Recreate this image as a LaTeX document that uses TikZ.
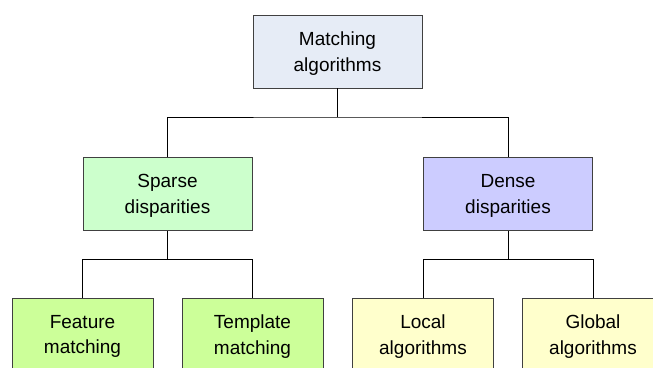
\documentclass[tikz,border=0pt]{standalone}
\usepackage{fontspec}
\setmainfont{Liberation Sans}
\usetikzlibrary{shadows}
\definecolor{topfill}{HTML}{E6ECF6}
\definecolor{sparsefill}{HTML}{CCFFCC}
\definecolor{densefill}{HTML}{CCCCFF}
\definecolor{leafgreen}{HTML}{CCFF99}
\definecolor{leafyellow}{HTML}{FFFFCC}
\definecolor{edgegray}{HTML}{404040}
\tikzset{
  box/.style={draw=edgegray, line width=0.9pt, rectangle, align=center,
    minimum height=73pt, inner sep=0pt, text depth=-2pt,
    font=\fontsize{19}{25.5}\selectfont,
    drop shadow={shadow xshift=0.9pt, shadow yshift=-0.9pt, fill=edgegray, opacity=0.8}},
  wide/.style={box, minimum width=169pt},
  leaf/.style={box, minimum width=141pt},
  link/.style={draw=black, line width=0.8pt}
}
\begin{document}
\begin{tikzpicture}[x=1pt, y=-1pt]
  \useasboundingbox (0,0) rectangle (653,367);
  \clip (0,0) rectangle (653,367);
  % tree boxes
  \node[wide, fill=topfill]    (root)   at (337.5,51.5)  {Matching\\algorithms};
  \node[wide, fill=sparsefill] (sparse) at (167.5,194)   {Sparse\\disparities};
  \node[wide, fill=densefill]  (dense)  at (508,194)     {Dense\\disparities};
  \node[leaf, fill=leafgreen]  (feat)   at (82.5,334.5)  {Feature\\matching};
  \node[leaf, fill=leafgreen]  (templ)  at (252.5,334.5) {Template\\matching};
  \node[leaf, fill=leafyellow] (local)  at (423,334.5)   {Local\\algorithms};
  \node[leaf, fill=leafyellow] (global) at (593,334.5)   {Global\\algorithms};
  % elbow connectors
  \coordinate (j1) at (337.5,117);
  \coordinate (j2) at (167.5,259.5);
  \coordinate (j3) at (508,259.5);
  \draw[link] (root.south) -- (j1);
  \draw[link] (sparse.north) |- (j1) -| (dense.north);
  \draw[link] (sparse.south) -- (j2);
  \draw[link] (feat.north) |- (j2) -| (templ.north);
  \draw[link] (dense.south) -- (j3);
  \draw[link] (local.north) |- (j3) -| (global.north);
\end{tikzpicture}
\end{document}
